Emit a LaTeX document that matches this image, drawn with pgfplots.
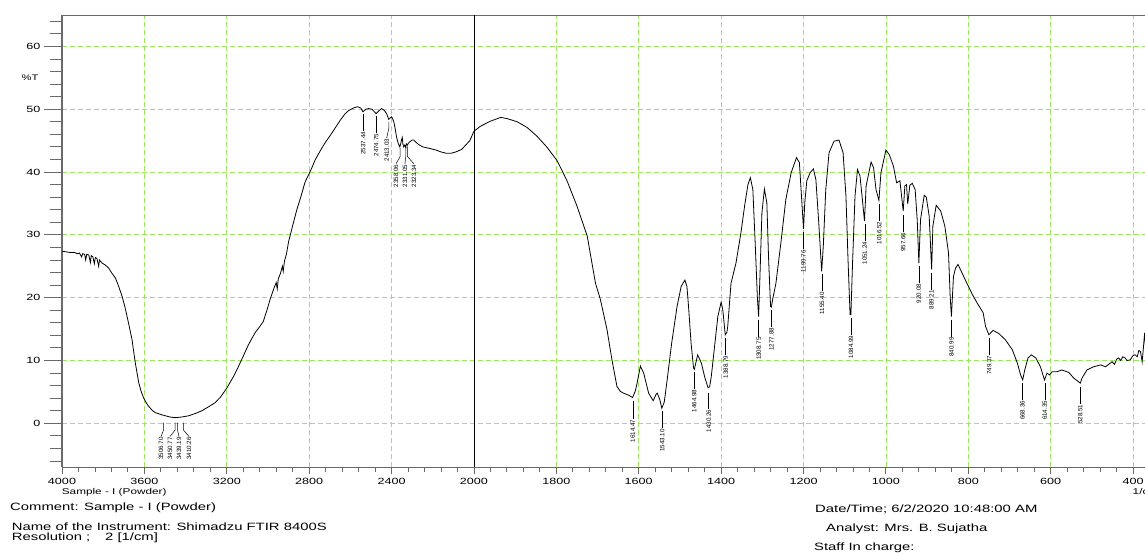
\documentclass[border=0pt]{standalone}
\usepackage{pgfplots}
\pgfplotsset{compat=1.18}
\usepackage{fontspec}
\setmainfont{Liberation Sans}
\newfontfamily\wf{Liberation Sans}[FakeStretch=1.4]
\definecolor{gridgreen}{RGB}{158,228,96}
\definecolor{framegray}{RGB}{105,105,105}
\newcommand{\tickfont}{\wf\fontsize{9bp}{10bp}\selectfont}
\newcommand{\pkfont}{\fontsize{6.2bp}{7bp}\selectfont}
\newcommand{\pk}[4]{\draw[line width=0.5bp] (axis cs:#1,#2) -- (axis cs:#1,#3) node[rotate=90,anchor=east,inner sep=0.6bp,font=\pkfont]{#4};}
\newcommand{\pb}[6]{\draw[line width=0.5bp] (axis cs:#1,#2) -- (axis cs:#1,#3) -- (axis cs:#4,#5) node[rotate=90,anchor=east,inner sep=0.6bp,font=\pkfont]{#6};}
\pgfplotsset{common/.style={
  at={(0,0)}, anchor=south west,
  scale only axis, width=1091.7bp, height=452.3bp,
  xmin=0, xmax=2650, ymin=-7, ymax=65,
  tick align=outside,
  tick style={draw=framegray, line width=0.9bp},
  ticklabel style={font=\tickfont},
  /pgf/number format/assume math mode=true,
}}
\begin{document}
\begin{tikzpicture}
\useasboundingbox (-62bp,-85.7bp) rectangle (1083bp,467.3bp);
\begin{axis}[common,
  axis line style={draw=framegray, line width=1bp},
  xtick={0,200,...,2600},
  xticklabels={4000,3600,3200,2800,2400,2000,1800,1600,1400,1200,1000,800,600,400},
  minor xtick={0,40,...,2640},
  ytick={0,10,...,60},
  yticklabels={},
  ytick style={draw=none},
  tick pos=left,
  major tick length=7bp, minor tick length=5bp,
  grid=major,
  major grid style={draw=gridgreen, dash pattern=on 5bp off 3bp, line width=0.8bp},
]
\addplot[black, line width=0.8bp, mark=none,
  x filter/.expression={x>1999.99 ? (4000-x)/2 : 3000-x}] coordinates {
(4000,27.4) (3980,27.3) (3960,27.2) (3940,27.2) (3925,27.0) (3915,27.1) (3905,26.5) (3900,27.0)
(3890,26.9) (3885,26.0) (3880,26.9) (3870,26.8) (3862,25.6) (3858,26.7) (3850,26.5) (3843,25.4)
(3838,26.4) (3830,26.2) (3822,25.0) (3818,26.0) (3805,25.5) (3790,25.2) (3773,24.7) (3760,24.0)
(3740,23.1) (3725,21.8) (3708,20.2) (3695,18.6) (3684,17.0) (3672,15.2) (3660,13.3) (3644,9.6)
(3627,6.4) (3615,5.0) (3603,4.0) (3590,3.2) (3579,2.7) (3563,2.1) (3547,1.7) (3520,1.4)
(3498,1.2) (3475,1.0) (3450,0.9) (3420,1.0) (3385,1.2) (3350,1.6) (3321,2.0) (3290,2.6)
(3256,3.3) (3230,4.2) (3200,5.6) (3170,7.3) (3144,9.0) (3120,10.7) (3095,12.5) (3063,14.4)
(3040,15.4) (3023,16.2) (3005,18.0) (2990,19.7) (2970,21.6) (2960,22.4) (2955,21.4) (2950,23.0)
(2940,23.8) (2930,25.0) (2926,24.2) (2920,25.8) (2910,27.0) (2900,28.9) (2880,31.5) (2860,34.0)
(2840,36.1) (2820,38.4) (2792,40.3) (2770,42.0) (2744,43.5) (2720,44.8) (2696,45.9) (2670,47.2)
(2648,48.3) (2625,49.3) (2608,49.8) (2585,50.2) (2565,50.4) (2550,50.2) (2539,49.6) (2525,50.0)
(2512,50.1) (2495,50.0) (2475,49.3) (2460,49.8) (2448,50.1) (2435,49.8) (2424,49.3) (2414,48.4)
(2407,48.6) (2400,48.8) (2395,48.5) (2389,48.0) (2383,47.0) (2376,45.6) (2368,44.6) (2360,44.0)
(2355,44.6) (2352,45.1) (2348,45.5) (2345,44.5) (2341,44.0) (2336,44.3) (2331,43.9) (2328,44.5)
(2323,44.3) (2318,44.6) (2312,44.8) (2300,45.1) (2293,45.1) (2280,44.7) (2265,44.3) (2248,44.0)
(2220,43.8) (2184,43.5) (2160,43.2) (2136,43.0) (2110,43.0) (2088,43.2) (2060,43.6) (2040,44.3)
(2020,45.0) (2008,45.9) (2000,46.5)
(1984,47.3) (1960,48.1) (1935,48.7) (1919,48.5) (1895,48.0) (1871,47.1) (1847,45.7) (1822,43.9)
(1798,41.8) (1774,38.6) (1750,34.6) (1725,29.8) (1705,22.3) (1693,19.7) (1677,14.9) (1665,10.1)
(1653,5.9) (1645,5.1) (1637,4.8) (1625,4.5) (1615,4.1) (1608,5.2) (1604,6.4) (1596,9.1)
(1588,8.0) (1576,4.8) (1565,3.6) (1558,4.6) (1555,4.8) (1549,3.8) (1544,2.4) (1538,3.4)
(1532,6.4) (1520,12.8) (1507,18.6) (1497,21.8) (1488,22.8) (1483,21.8) (1479,18.5) (1473,12.8)
(1467,8.8) (1465,8.6) (1460,10.0) (1457,10.9) (1448,9.6) (1440,7.4) (1432,5.7) (1428,5.8)
(1424,7.4) (1416,12.2) (1408,17.0) (1400,19.3) (1396,18.1) (1390,14.1) (1386,14.5) (1384,15.4)
(1376,22.3) (1364,25.5) (1352,30.3) (1343,34.6) (1335,38.0) (1329,39.1) (1323,37.2) (1317,28.2)
(1312,20.0) (1309,17.0) (1306,22.9) (1301,33.5) (1295,37.3) (1289,35.1) (1285,26.6) (1280,18.6)
(1278,18.5) (1275,19.7) (1267,22.3) (1255,28.7) (1243,35.6) (1230,39.9) (1217,42.3) (1210,41.5)
(1205,36.2) (1200,30.9) (1197,35.1) (1192,38.6) (1184,39.9) (1176,40.5) (1170,38.8) (1163,31.9)
(1156,24.2) (1152,28.2) (1146,37.2) (1138,43.1) (1126,44.9) (1114,45.1) (1104,43.1) (1097,36.2)
(1092,26.1) (1087,17.3) (1085,17.3) (1081,25.5) (1075,36.2) (1069,40.4) (1063,39.4) (1058,36.2)
(1052,32.2) (1048,37.8) (1036,41.6) (1030,40.7) (1024,37.2) (1017,35.5) (1012,39.9) (1000,43.5)
(992,42.8) (982,41.0) (974,38.3) (966,38.6) (958,33.8) (954,37.8) (950,38.0) (947,34.9)
(942,37.9) (936,38.2) (929,37.2) (924,32.4) (920,25.5) (916,32.4) (907,36.3) (902,36.0)
(895,33.0) (889,24.5) (886,31.4) (878,34.7) (867,33.8) (857,31.4) (848,27.1) (844,20.2)
(841,17.0) (836,23.4) (831,24.7) (825,25.3) (815,23.9) (802,22.1) (790,20.5) (778,19.1)
(764,17.6) (758,15.4) (750,14.1) (740,14.8) (726,14.3) (710,13.3) (693,11.7) (681,9.6)
(673,7.7) (668,6.9) (663,8.5) (655,10.4) (647,10.9) (636,10.4) (625,9.0) (615,6.9)
(609,8.0) (603,7.7) (597,8.2) (585,8.2) (573,8.5) (556,8.1) (544,7.2) (532,6.6)
(528,6.4) (524,7.2) (512,8.5) (496,9.0) (479,9.3) (467,9.0) (451,9.8) (445,9.4)
(440,10.2) (435,10.4) (430,10.0) (425,10.6) (419,10.4) (415,10.0) (407,10.1) (400,10.8)
(395,10.9) (390,10.6) (386,11.6) (382,11.4) (378,9.8) (375,12.0) (372,14.4) (369,11.5) (365,12.8)
};
\draw[black, line width=0.9bp] (axis cs:1000,-7) -- (axis cs:1000,65);
% peak labels
\pb{246.65}{0.1}{-1.07}{240.3}{-2.1}{3506.70}
\pb{274.6}{0.1}{-1.07}{262.1}{-2.1}{3450.77}
\pb{280.4}{0.1}{-1.07}{284.0}{-2.1}{3439.19}
\pb{294.9}{0.1}{-1.07}{308.3}{-2.1}{3410.26}
\pk{731.3}{49.2}{46.5}{2537.44}
\pk{762.6}{48.9}{46.2}{2474.75}
\pb{793.5}{48.0}{47.0}{788.1}{45.4}{2413.03}
\pb{821.0}{43.8}{42.5}{810.7}{41.3}{2358.06}
\pb{834.5}{44.1}{42.5}{832.5}{41.3}{2331.05}
\pb{838.3}{44.1}{42.5}{854.4}{41.3}{2323.34}
\pk{1385.5}{3.5}{0.7}{1614.47}
\pk{1456.9}{1.9}{-0.8}{1543.10}
\pk{1535.0}{8.2}{5.5}{1464.98}
\pk{1569.7}{4.9}{2.3}{1430.26}
\pk{1611.2}{13.6}{10.9}{1388.79}
\pk{1691.3}{16.5}{13.8}{1308.75}
\pk{1722.1}{18.0}{15.3}{1277.88}
\pk{1800.2}{30.4}{27.7}{1199.76}
\pk{1844.6}{23.7}{21.0}{1155.40}
\pk{1915.0}{16.8}{14.1}{1084.99}
\pk{1948.8}{31.7}{29.0}{1051.24}
\pk{1983.5}{34.9}{32.2}{1016.52}
\pk{2042.3}{33.2}{30.5}{957.66}
\pk{2079.9}{25.0}{22.3}{920.08}
\pk{2110.8}{24.0}{21.3}{889.21}
\pk{2159.0}{16.5}{13.8}{840.99}
\pk{2250.6}{13.6}{10.9}{749.37}
\pk{2331.6}{6.4}{3.7}{668.36}
\pk{2385.7}{6.4}{3.7}{614.35}
\pk{2471.5}{5.8}{3.1}{528.51}
\end{axis}
\begin{axis}[common,
  hide x axis,
  axis y line*=left,
  y axis line style={draw=framegray, line width=1bp},
  ytick={0,10,...,60},
  minor ytick={-6,-4,...,64},
  major tick length=18bp, minor tick length=12bp,
]
\end{axis}
\node[font=\wf\fontsize{8bp}{9bp}\selectfont] at (-32bp,389.3bp) {\%T};
\node[anchor=base west, inner sep=0pt, font=\wf\fontsize{8.4bp}{9bp}\selectfont] at (-0.3bp,-26.7bp) {Sample - I (Powder)};
\node[anchor=base west, inner sep=0pt, font=\wf\fontsize{8.4bp}{9bp}\selectfont] at (1070.5bp,-26.7bp) {1/cm};
\begin{scope}[every node/.style={anchor=base west, inner sep=0pt, font=\wf\fontsize{10.6bp}{12bp}\selectfont}]
\node at (-52bp,-43.2bp) {Comment: Sample - I (Powder)};
\node at (-50.3bp,-62.7bp) {Name of the Instrument: Shimadzu FTIR 8400S};
\node at (-50.3bp,-73.2bp) {Resolution ;};
\node at (43bp,-73.2bp) {2 [1/cm]};
\node at (753bp,-45.2bp) {Date/Time; 6/2/2020 10:48:00 AM};
\node at (764bp,-64.2bp) {Analyst: Mrs. B. Sujatha};
\node at (752bp,-82.7bp) {Staff In charge:};
\end{scope}
\end{tikzpicture}
\end{document}
